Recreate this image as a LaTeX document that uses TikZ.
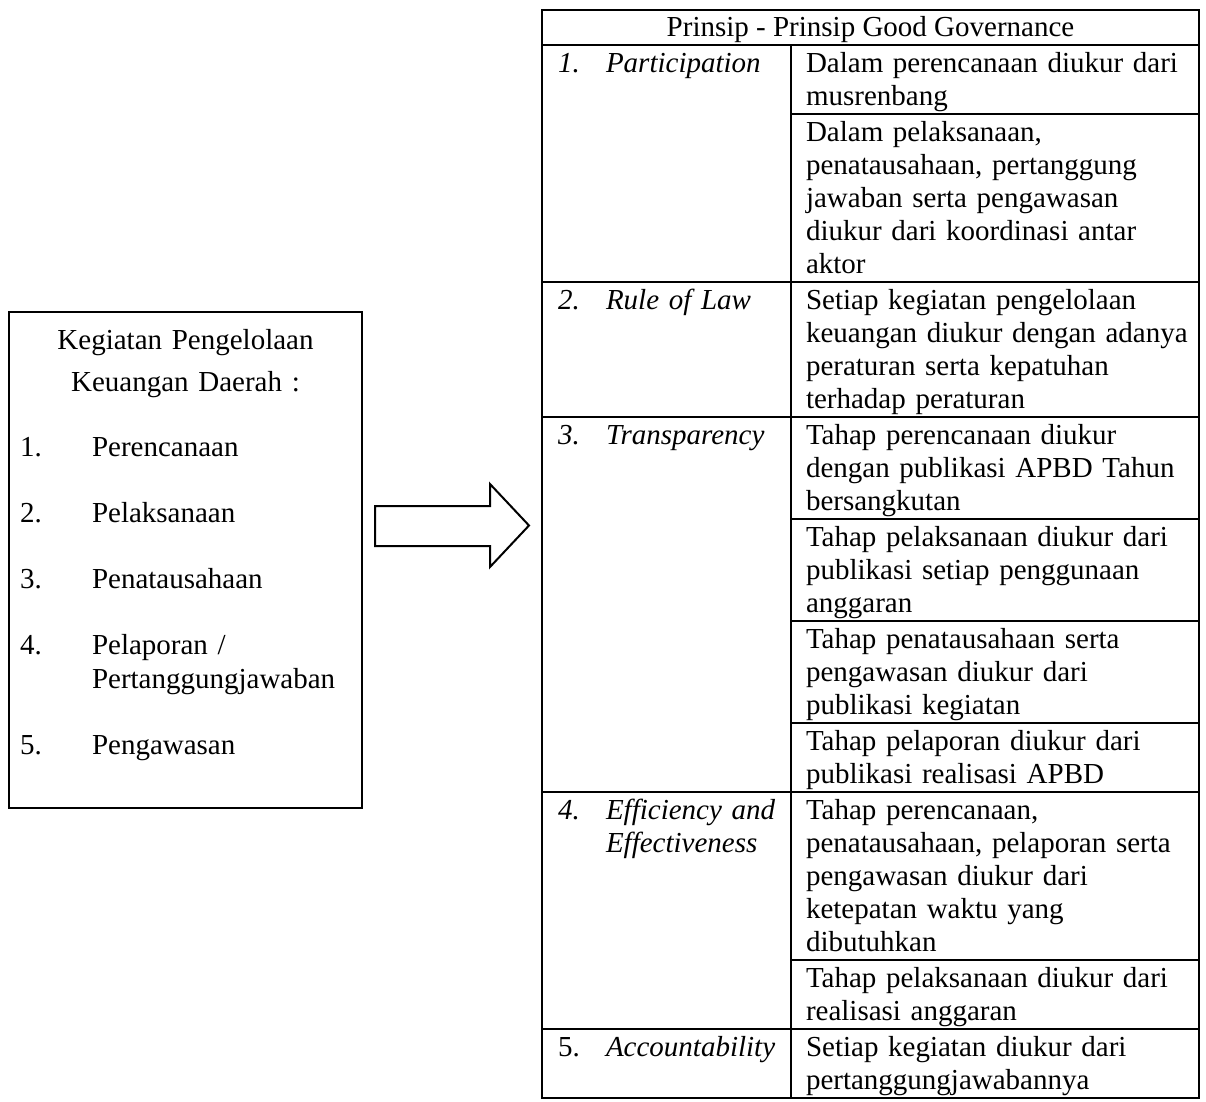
\documentclass[tikz,border=0pt]{standalone}
\usepackage{fontspec}
\setmainfont{Liberation Serif}
\newcommand\cellfont{\fontsize{14.5pt}{16.5pt}\selectfont}
\begin{document}
\begin{tikzpicture}[x=0.5pt,y=-0.5pt,line width=1pt,
  rule/.style={line width=1pt,draw=black},
  celltext/.style={anchor=base west,inner sep=0pt,text width=210pt,align=left,font=\cellfont},
  numtext/.style={anchor=base west,inner sep=0pt,font=\cellfont\itshape},
  princtext/.style={anchor=base west,inner sep=0pt,text width=95pt,align=left,font=\cellfont\itshape},
  boxtext/.style={anchor=base west,inner sep=0pt,text width=140pt,align=left,font=\fontsize{14.5pt}{17pt}\selectfont}]
\useasboundingbox (0,0) rectangle (1206,1102);

% ---------- left box ----------
\draw[rule] (9,312) rectangle (362,808);
\node[anchor=base,inner sep=0pt,text width=170pt,align=center,font=\fontsize{14.5pt}{21pt}\selectfont] (ltitle) at (185.5,349) {Kegiatan Pengelolaan\\Keuangan Daerah :};
\node[boxtext,text width=30pt] (n1) at (19,456) {1.};
\node[boxtext] (i1) at (91,456) {Perencanaan};
\node[boxtext,text width=30pt] (n2) at (19,522) {2.};
\node[boxtext] (i2) at (91,522) {Pelaksanaan};
\node[boxtext,text width=30pt] (n3) at (19,588) {3.};
\node[boxtext] (i3) at (91,588) {Penatausahaan};
\node[boxtext,text width=30pt] (n4) at (19,654) {4.};
\node[boxtext] (i4) at (91,654) {Pelaporan /\\Pertanggungjawaban};
\node[boxtext,text width=30pt] (n5) at (19,754) {5.};
\node[boxtext] (i5) at (91,754) {Pengawasan};

% ---------- block arrow ----------
\draw[rule,line join=miter] (375,506) -- (490,506) -- (490,484) -- (529,525.5) -- (490,567) -- (490,546) -- (375,546) -- cycle;

% ---------- table ----------
\draw[rule] (542,10) rectangle (1199,1098);
\draw[rule] (542,45) -- (1199,45);
\draw[rule] (791,45) -- (791,1098);
\foreach \yy in {282,417,792,1029} \draw[rule] (542,\yy) -- (1199,\yy);
\foreach \yy in {114,519,621,723,960} \draw[rule] (791,\yy) -- (1199,\yy);

\node[anchor=base,inner sep=0pt,font=\cellfont] (head) at (870.5,37) {Prinsip - Prinsip Good Governance};

% principle column
\node[numtext] (p1n) at (557,72.5) {1.};
\node[princtext] (p1) at (605,72.5) {Participation};
\node[numtext] (p2n) at (557,309.5) {2.};
\node[princtext] (p2) at (605,309.5) {Rule of Law};
\node[numtext] (p3n) at (557,444.5) {3.};
\node[princtext] (p3) at (605,444.5) {Transparency};
\node[numtext] (p4n) at (557,819.5) {4.};
\node[princtext] (p4) at (605,819.5) {Efficiency and\\Effectiveness};
\node[numtext,font=\cellfont] (p5n) at (557,1056.5) {5.};
\node[princtext] (p5) at (605,1056.5) {Accountability};

% description column
\node[celltext] (d1a) at (805,72.5) {Dalam perencanaan diukur dari\\musrenbang};
\node[celltext] (d1b) at (805,141.5) {Dalam pelaksanaan,\\penatausahaan, pertanggung\\jawaban serta pengawasan\\diukur dari koordinasi antar\\aktor};
\node[celltext] (d2) at (805,309.5) {Setiap kegiatan pengelolaan\\keuangan diukur dengan adanya\\peraturan serta kepatuhan\\terhadap peraturan};
\node[celltext] (d3a) at (805,444.5) {Tahap perencanaan diukur\\dengan publikasi APBD Tahun\\bersangkutan};
\node[celltext] (d3b) at (805,546.5) {Tahap pelaksanaan diukur dari\\publikasi setiap penggunaan\\anggaran};
\node[celltext] (d3c) at (805,648.5) {Tahap penatausahaan serta\\pengawasan diukur dari\\publikasi kegiatan};
\node[celltext] (d3d) at (805,750.5) {Tahap pelaporan diukur dari\\publikasi realisasi APBD};
\node[celltext] (d4a) at (805,819.5) {Tahap perencanaan,\\penatausahaan, pelaporan serta\\pengawasan diukur dari\\ketepatan waktu yang\\dibutuhkan};
\node[celltext] (d4b) at (805,987.5) {Tahap pelaksanaan diukur dari\\realisasi anggaran};
\node[celltext] (d5) at (805,1056.5) {Setiap kegiatan diukur dari\\pertanggungjawabannya};
\end{tikzpicture}
\end{document}
